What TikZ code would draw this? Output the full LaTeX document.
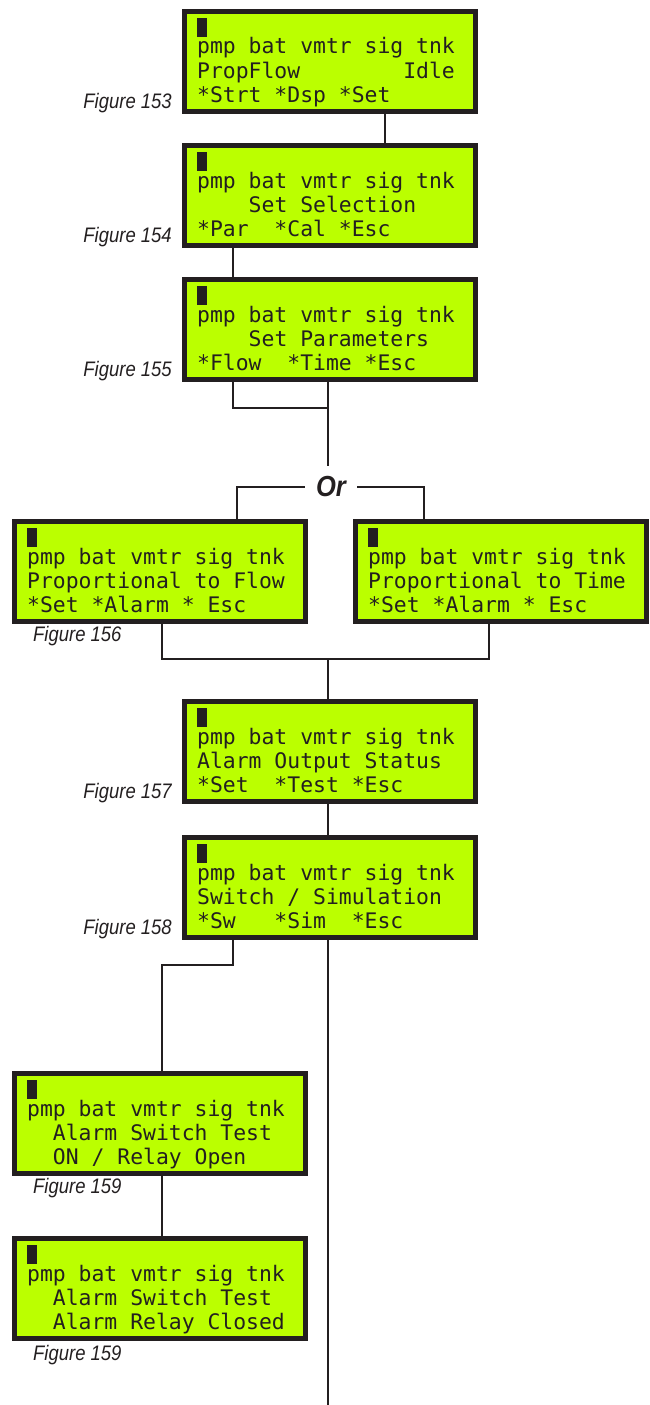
\documentclass[tikz,border=0pt]{standalone}
\usepackage{fontspec}
\newfontfamily\lcdfont{DejaVu Sans Mono}
\newfontfamily\figfont[FakeStretch=0.88]{Liberation Sans}
\usetikzlibrary{calc}
\definecolor{lcdgreen}{RGB}{187,255,0}
\definecolor{ink}{RGB}{35,31,32}
\tikzset{
 lcdframe/.style={draw=ink, fill=lcdgreen, line width=5pt, minimum width=291pt, minimum height=100pt, inner sep=0pt, outer sep=2.5pt, anchor=north west},
 lcdtext/.style={anchor=base west, inner sep=0pt, text=ink, font=\lcdfont\fontsize{21.4}{24}\selectfont},
 cursorfill/.style={fill=ink},
 conn/.style={draw=ink, line width=2.2pt},
 figlabel/.style={inner sep=0pt, text=ink, font=\figfont\itshape\fontsize{21}{24}\selectfont},
 orlabel/.style={inner sep=11pt, text=ink, font=\figfont\bfseries\itshape\fontsize{29}{30}\selectfont},
}
\newcommand{\lcdbox}[6]{%
 \node[lcdframe] (#1) at (#2,#3) {};
 \fill[cursorfill] ($(#1.north west)+(15,9)$) rectangle ++(10,19);
 \node[lcdtext] (#1-a) at ($(#1.north west)+(15,45)$) {#4};
 \node[lcdtext] (#1-b) at ($(#1.north west)+(15,69)$) {#5};
 \node[lcdtext] (#1-c) at ($(#1.north west)+(15,93)$) {#6};
}
\begin{document}
\begin{tikzpicture}[x=1pt,y=-1pt]
\useasboundingbox (0,0) rectangle (649,1405);

\lcdbox{b153}{182}{9}{pmp bat vmtr sig tnk}{PropFlow~~~~~~~~Idle}{*Strt *Dsp *Set}
\lcdbox{b154}{182}{143}{pmp bat vmtr sig tnk}{~~~~Set Selection}{*Par~~*Cal *Esc}
\lcdbox{b155}{182}{277}{pmp bat vmtr sig tnk}{~~~~Set Parameters}{*Flow~~*Time *Esc}
\lcdbox{b156}{12}{519}{pmp bat vmtr sig tnk}{Proportional to Flow}{*Set *Alarm * Esc}
\lcdbox{btime}{353}{519}{pmp bat vmtr sig tnk}{Proportional to Time}{*Set *Alarm * Esc}
\lcdbox{b157}{182}{699}{pmp bat vmtr sig tnk}{Alarm Output Status}{*Set~~*Test *Esc}
\lcdbox{b158}{182}{835}{pmp bat vmtr sig tnk}{Switch / Simulation}{*Sw~~~*Sim~~*Esc}
\lcdbox{b159a}{12}{1071}{pmp bat vmtr sig tnk}{~~Alarm Switch Test}{~~ON / Relay Open}
\lcdbox{b159b}{12}{1236}{pmp bat vmtr sig tnk}{~~Alarm Switch Test}{~~Alarm Relay Closed}

% figure labels
\node[figlabel, anchor=base east] (f153) at (172,108) {Figure 153};
\node[figlabel, anchor=base east] (f154) at (172,242) {Figure 154};
\node[figlabel, anchor=base east] (f155) at (172,376) {Figure 155};
\node[figlabel, anchor=base west] (f156) at (33,641) {Figure 156};
\node[figlabel, anchor=base east] (f157) at (172,798) {Figure 157};
\node[figlabel, anchor=base east] (f158) at (172,934) {Figure 158};
\node[figlabel, anchor=base west] (f159a) at (33,1193) {Figure 159};
\node[figlabel, anchor=base west] (f159b) at (33,1360) {Figure 159};

% Or
\node[orlabel] (or) at (331,487) {Or};
\coordinate (j1) at (328,408);
\coordinate (j2) at (328,659);
\coordinate (endpt) at (328,1405);

% connectors
\draw[conn] ([xshift=55pt]b153.south) -- ([xshift=55pt]b154.north);
\draw[conn] ([xshift=-97pt]b154.south) -- ([xshift=-97pt]b155.north);
\draw[conn] ([xshift=-97pt]b155.south) |- (j1);
\draw[conn] ([xshift=-2pt]b155.south) -- (j1) -- (j1 |- or.north);
\draw[conn] (or.west) -| ([xshift=77pt]b156.north);
\draw[conn] (or.east) -| ([xshift=-77pt]btime.north);
\draw[conn] ([xshift=2pt]b156.south) |- (j2);
\draw[conn] ([xshift=-12pt]btime.south) |- (j2);
\draw[conn] (j2) -- ([xshift=-2pt]b157.north);
\draw[conn] ([xshift=-2pt]b157.south) -- ([xshift=-2pt]b158.north);
\draw[conn] ([xshift=-97pt]b158.south) -- ++(0,25) -| ([xshift=2pt]b159a.north);
\draw[conn] ([xshift=-2pt]b158.south) -- (endpt);
\draw[conn] ([xshift=2pt]b159a.south) -- ([xshift=2pt]b159b.north);
\end{tikzpicture}
\end{document}
